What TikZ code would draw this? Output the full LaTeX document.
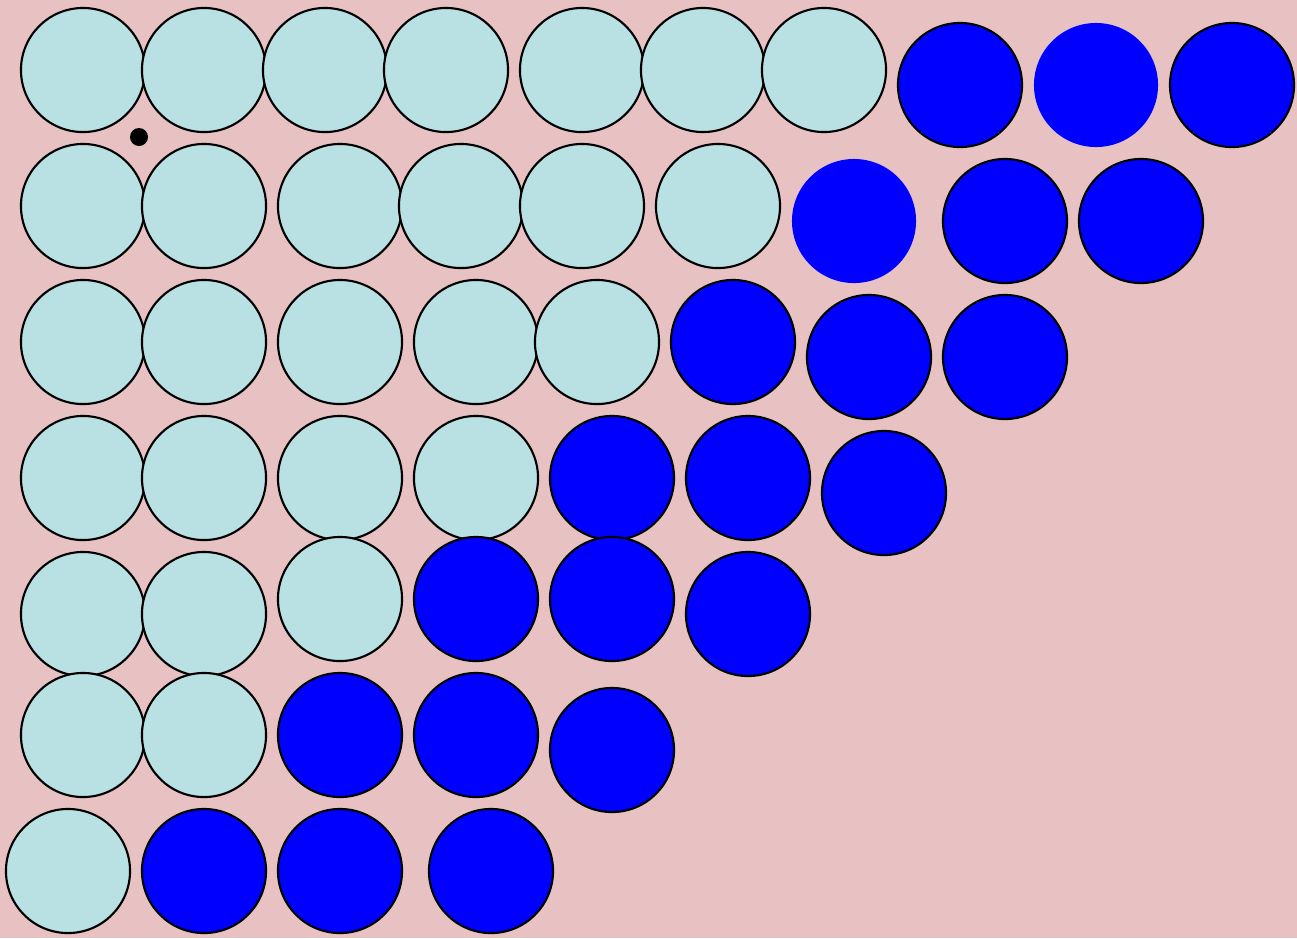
\documentclass[tikz,border=0pt]{standalone}
\usepackage{tikz}
\usetikzlibrary{positioning}
\definecolor{bgPink}{HTML}{E8C1C2}
\definecolor{discLight}{HTML}{B9E0E3}
\definecolor{discBlue}{HTML}{0000FF}
\tikzset{
  disc/.style={circle, minimum size=1.24cm, inner sep=0pt, line width=0.6pt},
  lightdisc/.style={disc, draw=black, fill=discLight},
  bluedisc/.style={disc, draw=black, fill=discBlue},
  plaindisc/.style={disc, draw=none, fill=discBlue},
  marker/.style={circle, fill=black, minimum size=0.18cm, inner sep=0pt}
}
\begin{document}
\begin{tikzpicture}[x=0.01cm, y=-0.01cm]
  \fill[bgPink] (0,0) rectangle (1297,938);
  \useasboundingbox (0,0) rectangle (1297,938);
  % light discs
  \foreach \x/\y [count=\i] in {83/70, 204/70, 325/70, 446/70, 582/70, 703/70, 824/70,
      83/206, 204/206, 340/206, 461/206, 582/206, 718/206,
      83/342, 204/342, 340/342, 476/342, 597/342,
      83/478, 204/478, 340/478, 476/478,
      83/614, 204/614, 340/599,
      83/735, 204/735,
      68/871}
    \node[lightdisc] (l\i) at (\x,\y) {};
  % blue discs
  \foreach \x/\y [count=\i] in {960/85, 1232/85,
      1005/221, 1141/221,
      733/342, 869/357, 1005/357,
      612/478, 748/478, 884/493,
      476/599, 612/599, 748/614,
      340/735, 476/735, 612/750,
      204/871, 340/871, 491/871}
    \node[bluedisc] (b\i) at (\x,\y) {};
  \node[plaindisc] (p1) at (1096,85) {};
  \node[plaindisc] (p2) at (854,221) {};
  \node[marker] (dot) at (139,137) {};
\end{tikzpicture}
\end{document}
